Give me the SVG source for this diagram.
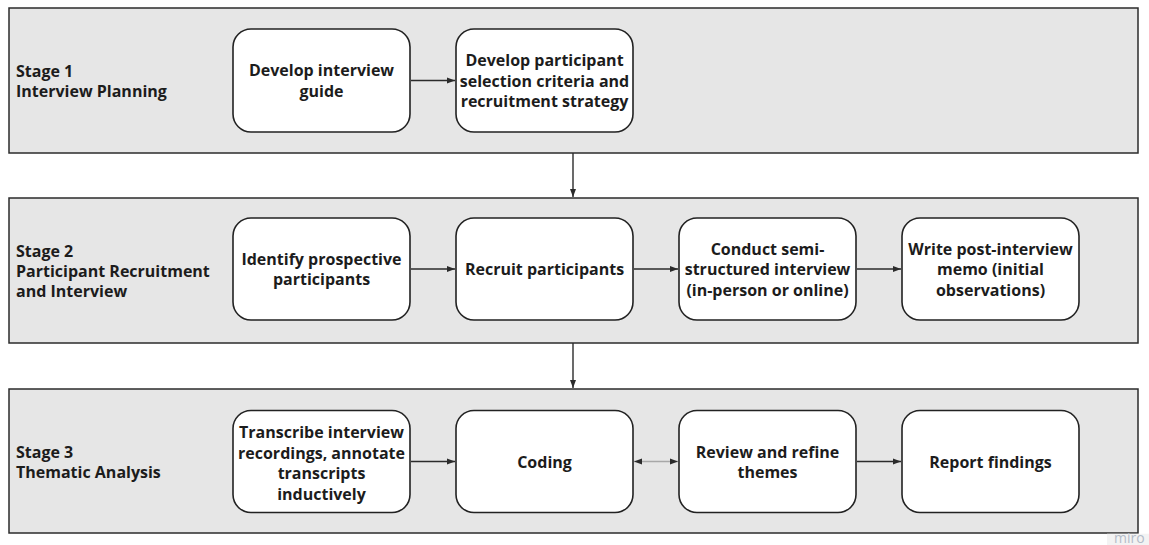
<svg xmlns="http://www.w3.org/2000/svg" width="1149" height="545" viewBox="0 0 1149 545">
  <style>
    .stage { fill: #e6e6e6; stroke: #2b2b2b; stroke-width: 1.5; }
    .box { fill: #ffffff; stroke: #222222; stroke-width: 1.6; }
    .lbl { font-family: "Open Sans", "Noto Sans", sans-serif; font-weight: 700; font-size: 16px; fill: #1c1c1c; }
    .ctr { text-anchor: middle; }
    .wire { stroke: #2b2b2b; stroke-width: 1.4; fill: none; }
    .wire-soft { stroke: #a8a8a8; stroke-width: 1.4; fill: none; }
    .mark { font-family: "Open Sans", "Noto Sans", sans-serif; font-size: 14px; fill: #b4bcc8; }
  </style>
  <defs>
    <marker id="head" viewBox="0 0 8 8" refX="8" refY="4" markerWidth="8" markerHeight="8" markerUnits="userSpaceOnUse" orient="auto-start-reverse">
      <path d="M0,1 L8,4 L0,7 Z" fill="#2b2b2b"/>
    </marker>
  </defs>

  <rect width="1149" height="545" fill="#ffffff"/>

  <!-- stage panels -->
  <g id="stage1">
    <rect class="stage" x="9" y="8" width="1129" height="145"/>
    <text class="lbl" x="16" y="77">Stage 1</text>
    <text class="lbl" x="16" y="97">Interview Planning</text>
  </g>
  <g id="stage2">
    <rect class="stage" x="9" y="198" width="1129" height="145"/>
    <text class="lbl" x="16" y="257">Stage 2</text>
    <text class="lbl" x="16" y="277">Participant Recruitment</text>
    <text class="lbl" x="16" y="297">and Interview</text>
  </g>
  <g id="stage3">
    <rect class="stage" x="9" y="389" width="1129" height="144"/>
    <text class="lbl" x="16" y="457.5">Stage 3</text>
    <text class="lbl" x="16" y="477.5">Thematic Analysis</text>
  </g>

  <!-- connectors -->
  <g id="connectors">
    <line class="wire" x1="573" y1="153" x2="573" y2="197" marker-end="url(#head)"/>
    <line class="wire" x1="573" y1="343" x2="573" y2="388" marker-end="url(#head)"/>

    <line class="wire" x1="411" y1="80.5" x2="455" y2="80.5" marker-end="url(#head)"/>

    <line class="wire" x1="411" y1="269" x2="455" y2="269" marker-end="url(#head)"/>
    <line class="wire" x1="634" y1="269" x2="678" y2="269" marker-end="url(#head)"/>
    <line class="wire" x1="857" y1="269" x2="901" y2="269" marker-end="url(#head)"/>

    <line class="wire" x1="411" y1="461.5" x2="455" y2="461.5" marker-end="url(#head)"/>
    <line class="wire-soft" x1="634" y1="461.5" x2="678" y2="461.5" marker-start="url(#head)" marker-end="url(#head)"/>
    <line class="wire" x1="857" y1="461.5" x2="901" y2="461.5" marker-end="url(#head)"/>
  </g>

  <!-- stage 1 steps -->
  <g id="develop-guide">
    <rect class="box" x="233" y="29" width="177" height="103" rx="18"/>
    <text class="lbl ctr" x="321.5" y="76">Develop interview</text>
    <text class="lbl ctr" x="321.5" y="96.5">guide</text>
  </g>
  <g id="develop-criteria">
    <rect class="box" x="456" y="29" width="177" height="103" rx="18"/>
    <text class="lbl ctr" x="544.5" y="66">Develop participant</text>
    <text class="lbl ctr" x="544.5" y="86.5">selection criteria and</text>
    <text class="lbl ctr" x="544.5" y="107">recruitment strategy</text>
  </g>

  <!-- stage 2 steps -->
  <g id="identify">
    <rect class="box" x="233" y="218" width="177" height="102" rx="18"/>
    <text class="lbl ctr" x="321.5" y="264.5">Identify prospective</text>
    <text class="lbl ctr" x="321.5" y="285">participants</text>
  </g>
  <g id="recruit">
    <rect class="box" x="456" y="218" width="177" height="102" rx="18"/>
    <text class="lbl ctr" x="544.5" y="275">Recruit participants</text>
  </g>
  <g id="conduct">
    <rect class="box" x="679" y="218" width="177" height="102" rx="18"/>
    <text class="lbl ctr" x="767.5" y="254.5">Conduct semi-</text>
    <text class="lbl ctr" x="767.5" y="275">structured interview</text>
    <text class="lbl ctr" x="767.5" y="295.5">(in-person or online)</text>
  </g>
  <g id="memo">
    <rect class="box" x="902" y="218" width="177" height="102" rx="18"/>
    <text class="lbl ctr" x="990.5" y="254.5">Write post-interview</text>
    <text class="lbl ctr" x="990.5" y="275">memo (initial</text>
    <text class="lbl ctr" x="990.5" y="295.5">observations)</text>
  </g>

  <!-- stage 3 steps -->
  <g id="transcribe">
    <rect class="box" x="233" y="410.5" width="177" height="102" rx="18"/>
    <text class="lbl ctr" x="321.5" y="438">Transcribe interview</text>
    <text class="lbl ctr" x="321.5" y="458.5">recordings, annotate</text>
    <text class="lbl ctr" x="321.5" y="479">transcripts</text>
    <text class="lbl ctr" x="321.5" y="499.5">inductively</text>
  </g>
  <g id="coding">
    <rect class="box" x="456" y="410.5" width="177" height="102" rx="18"/>
    <text class="lbl ctr" x="544.5" y="468">Coding</text>
  </g>
  <g id="review">
    <rect class="box" x="679" y="410.5" width="177" height="102" rx="18"/>
    <text class="lbl ctr" x="767.5" y="457.5">Review and refine</text>
    <text class="lbl ctr" x="767.5" y="478">themes</text>
  </g>
  <g id="report">
    <rect class="box" x="902" y="410.5" width="177" height="102" rx="18"/>
    <text class="lbl ctr" x="990.5" y="468">Report findings</text>
  </g>

  <!-- board watermark -->
  <rect x="1107" y="533.75" width="42" height="11.25" fill="#f3f3f3"/>
  <text class="mark" x="1114" y="543">miro</text>
</svg>
